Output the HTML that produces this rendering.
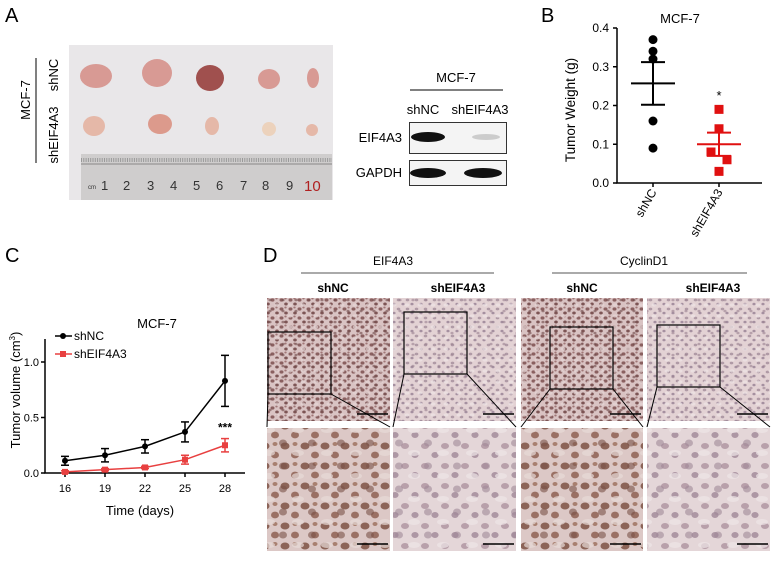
<!DOCTYPE html>
<html><head><meta charset="utf-8">
<style>
body{margin:0;background:#fff;}
svg{display:block;font-family:"Liberation Sans",Arial,sans-serif;}
</style></head>
<body>
<svg id="fig" width="778" height="561" viewBox="0 0 778 561" xmlns="http://www.w3.org/2000/svg">
<defs>
<pattern id="cellsDark" width="9" height="9" patternUnits="userSpaceOnUse">
<rect width="9" height="9" fill="#d9c3c3"/>
<ellipse cx="2.5" cy="3" rx="2" ry="1.6" fill="#8a6060"/>
<ellipse cx="7" cy="7" rx="1.8" ry="1.5" fill="#7d5555"/>
<ellipse cx="6.5" cy="1.5" rx="1.2" ry="1" fill="#a07777"/>
</pattern>
<pattern id="overDark" width="13" height="11" patternUnits="userSpaceOnUse">
<ellipse cx="4" cy="8" rx="2.5" ry="1.6" fill="#e6d6d6" opacity="0.7"/>
<ellipse cx="10" cy="3" rx="1.6" ry="1.3" fill="#6e4848" opacity="0.6"/>
</pattern>
<pattern id="cellsLight" width="9" height="9" patternUnits="userSpaceOnUse">
<rect width="9" height="9" fill="#e3d2d4"/>
<ellipse cx="2.5" cy="3" rx="1.8" ry="1.4" fill="#b09aa6"/>
<ellipse cx="7" cy="7" rx="1.6" ry="1.3" fill="#a590a0"/>
</pattern>
<pattern id="overLight" width="13" height="11" patternUnits="userSpaceOnUse">
<ellipse cx="4" cy="8" rx="2.5" ry="1.6" fill="#efe4e6" opacity="0.7"/>
<ellipse cx="10" cy="3" rx="1.6" ry="1.3" fill="#9a8090" opacity="0.6"/>
</pattern>
<pattern id="cellsDarkBig" width="20" height="20" patternUnits="userSpaceOnUse">
<rect width="20" height="20" fill="#dcc8c6"/>
<ellipse cx="5" cy="6" rx="4.5" ry="3.5" fill="#8c6458"/>
<ellipse cx="15" cy="15" rx="4" ry="3.4" fill="#9a7064"/>
<ellipse cx="15" cy="4" rx="2.5" ry="2" fill="#a88070"/>
</pattern>
<pattern id="overDarkBig" width="29" height="23" patternUnits="userSpaceOnUse">
<ellipse cx="8" cy="16" rx="6" ry="3" fill="#e8dad8" opacity="0.7"/>
<ellipse cx="22" cy="6" rx="4" ry="3.5" fill="#7a5248" opacity="0.6"/>
</pattern>
<pattern id="cellsLightBig" width="20" height="20" patternUnits="userSpaceOnUse">
<rect width="20" height="20" fill="#e4d6d8"/>
<ellipse cx="5" cy="6" rx="4" ry="3" fill="#b8a0aa"/>
<ellipse cx="15" cy="15" rx="3.6" ry="3" fill="#ad97a4"/>
</pattern>
<pattern id="overLightBig" width="29" height="23" patternUnits="userSpaceOnUse">
<ellipse cx="8" cy="16" rx="6" ry="3" fill="#efe6e8" opacity="0.7"/>
<ellipse cx="22" cy="6" rx="4" ry="3.5" fill="#a08898" opacity="0.6"/>
</pattern>
</defs>

<!-- PANEL A -->
<text x="5" y="22" font-size="20">A</text>
<rect x="69" y="45" width="264" height="155" fill="#e9e7e9"/>
<g fill="#d89a94">
<ellipse cx="96" cy="76" rx="16" ry="12"/>
<ellipse cx="157" cy="73" rx="15" ry="14"/>
<ellipse cx="210" cy="78" rx="14" ry="13" fill="#a0504e"/>
<ellipse cx="269" cy="79" rx="11" ry="10"/>
<ellipse cx="313" cy="78" rx="6" ry="10"/>
</g>
<g fill="#e5b8a8">
<ellipse cx="94" cy="126" rx="11" ry="10"/>
<ellipse cx="160" cy="124" rx="12" ry="10" fill="#dc9a8c"/>
<ellipse cx="212" cy="126" rx="7" ry="9"/>
<ellipse cx="269" cy="129" rx="7" ry="7" fill="#ecd2bc"/>
<ellipse cx="312" cy="130" rx="6" ry="6"/>
</g>
<rect x="81" y="154" width="251" height="46" fill="#cfcdcd"/>
<line x1="81" y1="164" x2="332" y2="164" stroke="#888" stroke-width="1"/>
<line x1="81" y1="160" x2="332" y2="160" stroke="#999" stroke-width="4" stroke-dasharray="1 1.3"/>
<g font-size="13" fill="#333">
<text x="88" y="189" font-size="6">cm</text>
<text x="101" y="190">1</text><text x="123" y="190">2</text><text x="147" y="190">3</text>
<text x="170" y="190">4</text><text x="193" y="190">5</text><text x="216" y="190">6</text>
<text x="240" y="190">7</text><text x="262" y="190">8</text><text x="286" y="190">9</text>
<text x="304" y="191" fill="#b02020" font-size="15">10</text>
</g>
<text transform="translate(30,100) rotate(-90)" text-anchor="middle" font-size="13">MCF-7</text>
<line x1="36" y1="58" x2="36" y2="163" stroke="#000" stroke-width="1"/>
<text transform="translate(58,75) rotate(-90)" text-anchor="middle" font-size="13">shNC</text>
<text transform="translate(58,135) rotate(-90)" text-anchor="middle" font-size="13">shEIF4A3</text>

<text x="456" y="82" text-anchor="middle" font-size="13">MCF-7</text>
<line x1="410" y1="90" x2="503" y2="90" stroke="#000" stroke-width="1"/>
<text x="423" y="114" text-anchor="middle" font-size="13">shNC</text>
<text x="480" y="114" text-anchor="middle" font-size="13">shEIF4A3</text>
<text x="402" y="142" text-anchor="end" font-size="13">EIF4A3</text>
<text x="402" y="177" text-anchor="end" font-size="13">GAPDH</text>
<rect x="409.5" y="122.5" width="97" height="31" fill="#f4f4f4" stroke="#333"/>
<ellipse cx="428" cy="137" rx="17" ry="5" fill="#111"/>
<ellipse cx="486" cy="137" rx="14" ry="3" fill="#ccc"/>
<rect x="409.5" y="160.5" width="97" height="25" fill="#f4f4f4" stroke="#333"/>
<ellipse cx="428" cy="173" rx="18" ry="5" fill="#111"/>
<ellipse cx="483" cy="173" rx="19" ry="5" fill="#111"/>

<!-- PANEL B -->
<text x="541" y="22" font-size="20">B</text>
<g id="chartB"></g>

<!-- PANEL C -->
<text x="5" y="262" font-size="20">C</text>
<g id="chartC"></g>

<!-- PANEL D -->
<text x="263" y="262" font-size="20">D</text>
<text x="393" y="265" text-anchor="middle" font-size="12">EIF4A3</text>
<line x1="301" y1="273" x2="494" y2="273" stroke="#555"/>
<text x="644" y="265" text-anchor="middle" font-size="12">CyclinD1</text>
<line x1="552" y1="273" x2="747" y2="273" stroke="#555"/>
<g font-size="12" font-weight="bold" text-anchor="middle">
<text x="333" y="292">shNC</text>
<text x="458" y="292">shEIF4A3</text>
<text x="582" y="292">shNC</text>
<text x="713" y="292">shEIF4A3</text>
</g>
<g id="ihc"></g>
</svg>
<script>
const NS="http://www.w3.org/2000/svg";
function mk(parent,tag,attrs,text){const e=document.createElementNS(NS,tag);for(const k in attrs)e.setAttribute(k,attrs[k]);if(text!==undefined)e.textContent=text;parent.appendChild(e);return e;}

// ---------- Panel B data ----------
const bCategories=["shNC","shEIF4A3"];
const bShNC=[0.37,0.34,0.32,0.16,0.09];
const bShEIF=[0.19,0.14,0.08,0.06,0.03];
const bMeans=[0.257,0.10];
const bSEM=[0.055,0.03];
const bTicks=[0.0,0.1,0.2,0.3,0.4];

// ---------- Panel C data ----------
const cDays=[16,19,22,25,28];
const cShNC=[0.11,0.16,0.24,0.37,0.83];
const cShNCErr=[0.04,0.06,0.06,0.09,0.23];
const cShEIF=[0.01,0.03,0.05,0.12,0.25];
const cShEIFErr=[0.01,0.01,0.01,0.04,0.06];
const cYTicks=[0.0,0.5,1.0];

(function(){
 const g=document.getElementById('chartB');
 const y=v=>183-(v/0.4)*155;
 const xc=[653,719];
 mk(g,'text',{x:680,y:23,'text-anchor':'middle','font-size':13}, 'MCF-7');
 const ax=mk(g,'path',{d:'M617,28 V183 H762',fill:'none',stroke:'#000','stroke-width':1.5});
 
 bTicks.forEach(t=>{
  mk(g,'line',{x1:613,y1:y(t),x2:617,y2:y(t),stroke:'#000','stroke-width':1.5});
  const tl=mk(g,'text',{x:609,y:y(t)+4,'text-anchor':'end','font-size':12},t.toFixed(1));
  
 });
 const yt=mk(g,'text',{transform:'translate(575,110) rotate(-90)','text-anchor':'middle','font-size':13.5},'Tumor Weight (g)');
 
 bCategories.forEach((c,i)=>{
  mk(g,'line',{x1:xc[i],y1:183,x2:xc[i],y2:187,stroke:'#000','stroke-width':1.5});
  const cl=mk(g,'text',{transform:`translate(${xc[i]+4},192) rotate(-60)`,'text-anchor':'end','font-size':12},c);
  
 });
 const jit=[0,0,0,0,0], jit2=[0,0,-8,8,0];
 bShNC.forEach((v,i)=>{const p=mk(g,'circle',{cx:xc[0]+jit[i],cy:y(v),r:4.5,fill:'#000'});});
 bShEIF.forEach((v,i)=>{const p=mk(g,'rect',{x:xc[1]+jit2[i]-4.5,y:y(v)-4.5,width:9,height:9,fill:'#e01010'});});
 const cols=['#000','#e01010'];
 bMeans.forEach((m,i)=>{
  const x=xc[i];
  const ml=mk(g,'line',{x1:x-22,y1:y(m),x2:x+22,y2:y(m),stroke:cols[i],'stroke-width':2});
  
  mk(g,'line',{x1:x,y1:y(m-bSEM[i]),x2:x,y2:y(m+bSEM[i]),stroke:cols[i],'stroke-width':2});
  mk(g,'line',{x1:x-12,y1:y(m-bSEM[i]),x2:x+12,y2:y(m-bSEM[i]),stroke:cols[i],'stroke-width':2});
  mk(g,'line',{x1:x-12,y1:y(m+bSEM[i]),x2:x+12,y2:y(m+bSEM[i]),stroke:cols[i],'stroke-width':2});
 });
 const st=mk(g,'text',{x:xc[1],y:y(0.23)+6,'text-anchor':'middle','font-size':13},'*');
 
})();

(function(){
 const g=document.getElementById('chartC');
 const x=d=>65+(d-16)/12*160;
 const y=v=>473-v*111;
 mk(g,'text',{x:157,y:328,'text-anchor':'middle','font-size':13},'MCF-7');
 mk(g,'path',{d:'M45,339 V473 H245',fill:'none',stroke:'#000','stroke-width':1.5});
 cYTicks.forEach(t=>{
  mk(g,'line',{x1:41,y1:y(t),x2:45,y2:y(t),stroke:'#000','stroke-width':1.5});
  mk(g,'text',{x:39,y:y(t)+4,'text-anchor':'end','font-size':11},t.toFixed(1));
 });
 cDays.forEach(d=>{
  mk(g,'line',{x1:x(d),y1:473,x2:x(d),y2:477,stroke:'#000','stroke-width':1.5});
  mk(g,'text',{x:x(d),y:492,'text-anchor':'middle','font-size':11},String(d));
 });
 mk(g,'text',{x:140,y:515,'text-anchor':'middle','font-size':13},'Time (days)');
 const yt=mk(g,'text',{transform:'translate(20,390) rotate(-90)','text-anchor':'middle','font-size':13});
 
 yt.appendChild(document.createTextNode('Tumor volume (cm'));
 mk(yt,'tspan',{'font-size':8,dy:-5},'3');
 mk(yt,'tspan',{dy:5},')');
 function series(vals,errs,col,name,square){
  const pts=vals.map((v,i)=>x(cDays[i])+','+y(v)).join(' ');
  mk(g,'polyline',{points:pts,fill:'none',stroke:col,'stroke-width':1.5});
  vals.forEach((v,i)=>{
   const cx=x(cDays[i]);
   mk(g,'line',{x1:cx,y1:y(v-errs[i]),x2:cx,y2:y(v+errs[i]),stroke:col,'stroke-width':1.5});
   mk(g,'line',{x1:cx-4,y1:y(v-errs[i]),x2:cx+4,y2:y(v-errs[i]),stroke:col,'stroke-width':1.5});
   mk(g,'line',{x1:cx-4,y1:y(v+errs[i]),x2:cx+4,y2:y(v+errs[i]),stroke:col,'stroke-width':1.5});
   const p=square?mk(g,'rect',{x:cx-3,y:y(v)-3,width:6,height:6,fill:col}):mk(g,'circle',{cx:cx,cy:y(v),r:3,fill:col});
   
  });
 }
 series(cShNC,cShNCErr,'#000','shnc',false);
 series(cShEIF,cShEIFErr,'#e84040','sheif4a3',true);
 mk(g,'text',{x:225,y:y(0.5)+14,'text-anchor':'middle','font-size':12,'font-weight':'bold'},'***');
 mk(g,'line',{x1:55,y1:336,x2:72,y2:336,stroke:'#000','stroke-width':1.5});
 mk(g,'circle',{cx:63,cy:336,r:3,fill:'#000'});
 mk(g,'text',{x:74,y:340,'font-size':12},'shNC');
 mk(g,'line',{x1:55,y1:354,x2:72,y2:354,stroke:'#e84040','stroke-width':1.5});
 mk(g,'rect',{x:60,y:351,width:6,height:6,fill:'#e84040'});
 mk(g,'text',{x:74,y:358,'font-size':12},'shEIF4A3');
})();

(function(){
 const g=document.getElementById('ihc');
 const cols=[[267,390],[393,516],[521,643],[647,770]];
 const dark=[true,false,true,false];
 const boxes=[[268,332],[404,312],[550,327],[657,325]];
 cols.forEach((c,i)=>{
  const w=c[1]-c[0];
  const t=mk(g,'rect',{x:c[0],y:298,width:w,height:123,fill:dark[i]?'url(#cellsDark)':'url(#cellsLight)'});
  
  mk(g,'rect',{x:c[0],y:298,width:w,height:123,fill:dark[i]?'url(#overDark)':'url(#overLight)'});
  const b=mk(g,'rect',{x:c[0],y:428,width:w,height:123,fill:dark[i]?'url(#cellsDarkBig)':'url(#cellsLightBig)'});
  
  mk(g,'rect',{x:c[0],y:428,width:w,height:123,fill:dark[i]?'url(#overDarkBig)':'url(#overLightBig)'});
  const bx=boxes[i];
  mk(g,'rect',{x:bx[0],y:bx[1],width:63,height:62,fill:'none',stroke:'#000','stroke-width':1.2});
  mk(g,'line',{x1:bx[0],y1:bx[1]+62,x2:c[0],y2:427,stroke:'#000','stroke-width':1});
  mk(g,'line',{x1:bx[0]+63,y1:bx[1]+62,x2:c[1],y2:427,stroke:'#000','stroke-width':1});
  mk(g,'line',{x1:c[1]-33,y1:414,x2:c[1]-2,y2:414,stroke:'#000','stroke-width':1.5});
  mk(g,'line',{x1:c[1]-33,y1:544,x2:c[1]-2,y2:544,stroke:'#000','stroke-width':1.5});
 });
})();
</script>
</body></html>
